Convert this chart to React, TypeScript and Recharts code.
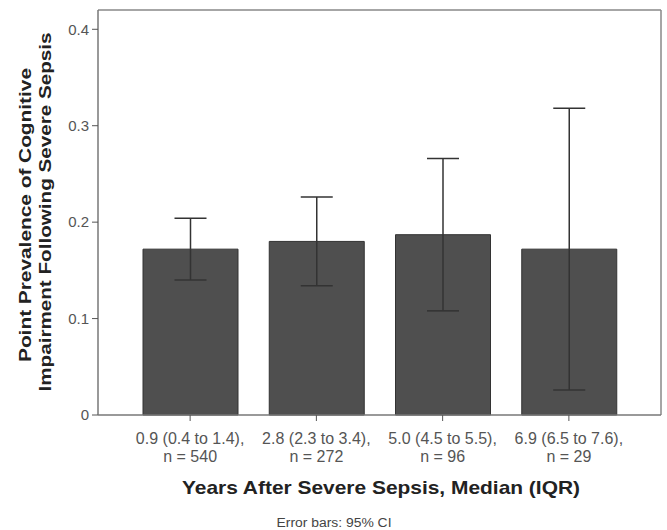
import { BarChart, Bar, XAxis, YAxis, ErrorBar, Label, CartesianGrid } from 'recharts';

const medianIqr = ['0.9 (0.4 to 1.4),', '2.8 (2.3 to 3.4),', '5.0 (4.5 to 5.5),', '6.9 (6.5 to 7.6),'];
const sampleSizes = ['n = 540', 'n = 272', 'n = 96', 'n = 29'];
const prevalence = [0.172, 0.18, 0.187, 0.172];
const ciLower = [0.14, 0.134, 0.108, 0.026];
const ciUpper = [0.204, 0.226, 0.266, 0.318];
const yTicks = [0, 0.1, 0.2, 0.3, 0.4];

const font = '"Liberation Sans", Arial, sans-serif';

const data = medianIqr.map((name, i) => ({
  name,
  n: sampleSizes[i],
  value: prevalence[i],
  ci: [prevalence[i] - ciLower[i], ciUpper[i] - prevalence[i]],
}));

const XTick = (props: any) => {
  const { x, index } = props;
  return (
    <g fill="#555" fontSize={16} fontFamily={font} textAnchor="middle">
      <text x={x} y={444}>{medianIqr[index]}</text>
      <text x={x} y={462}>{sampleSizes[index]}</text>
    </g>
  );
};

// the original figure's text is stretched, so widths are pinned with textLength
const YTitle = () => (
  <g fontFamily={font} fontSize={16} fontWeight="bold" fill="#222" textAnchor="middle">
    <text
      x={25}
      y={215}
      transform="rotate(-90 25 215)"
      dominantBaseline="central"
      textLength={294}
      lengthAdjust="spacingAndGlyphs"
    >
      Point Prevalence of Cognitive
    </text>
    <text
      x={45}
      y={212}
      transform="rotate(-90 45 212)"
      dominantBaseline="central"
      textLength={359}
      lengthAdjust="spacingAndGlyphs"
    >
      Impairment Following Severe Sepsis
    </text>
  </g>
);

const XTitle = () => (
  <g fontFamily={font} textAnchor="middle">
    <text x={381} y={494} fontSize={19} fontWeight="bold" fill="#222" textLength={398} lengthAdjust="spacingAndGlyphs">
      Years After Severe Sepsis, Median (IQR)
    </text>
    <text x={334} y={527} fontSize={12.5} fill="#444" textLength={115} lengthAdjust="spacingAndGlyphs">
      Error bars: 95% CI
    </text>
  </g>
);

export default function App() {
  return (
    <div style={{ position: 'absolute', left: 0, top: 0, background: '#fff' }}>
      <BarChart width={667} height={530} data={data} margin={{ top: 10, right: 6, left: 0, bottom: 0 }}>
        {/* frame: top and right edges of the plot box */}
        <CartesianGrid
          stroke="#888"
          strokeWidth={1.5}
          horizontalCoordinatesGenerator={({ offset }: any) => [offset.top]}
          verticalCoordinatesGenerator={({ offset }: any) => [offset.left + offset.width]}
        />
        <XAxis
          dataKey="name"
          height={115}
          padding={{ left: 29, right: 29 }}
          axisLine={{ stroke: '#777', strokeWidth: 1.5 }}
          tickLine={{ stroke: '#555' }}
          tickSize={6}
          tick={<XTick />}
          interval={0}
        >
          <Label content={<XTitle />} />
        </XAxis>
        <YAxis
          width={98}
          domain={[0, 0.42]}
          ticks={yTicks}
          interval={0}
          axisLine={{ stroke: '#777', strokeWidth: 1.5 }}
          tickLine={{ stroke: '#555' }}
          tickSize={6}
          tickMargin={3}
          tick={{ fill: '#555', fontSize: 15, fontFamily: font }}
        >
          <Label content={<YTitle />} />
        </YAxis>
        <Bar dataKey="value" fill="#4f4f4f" stroke="#333" strokeWidth={1} barSize={95} isAnimationActive={false}>
          <ErrorBar dataKey="ci" direction="y" width={16} stroke="#333" strokeWidth={1.5} isAnimationActive={false} />
        </Bar>
      </BarChart>
    </div>
  );
}
